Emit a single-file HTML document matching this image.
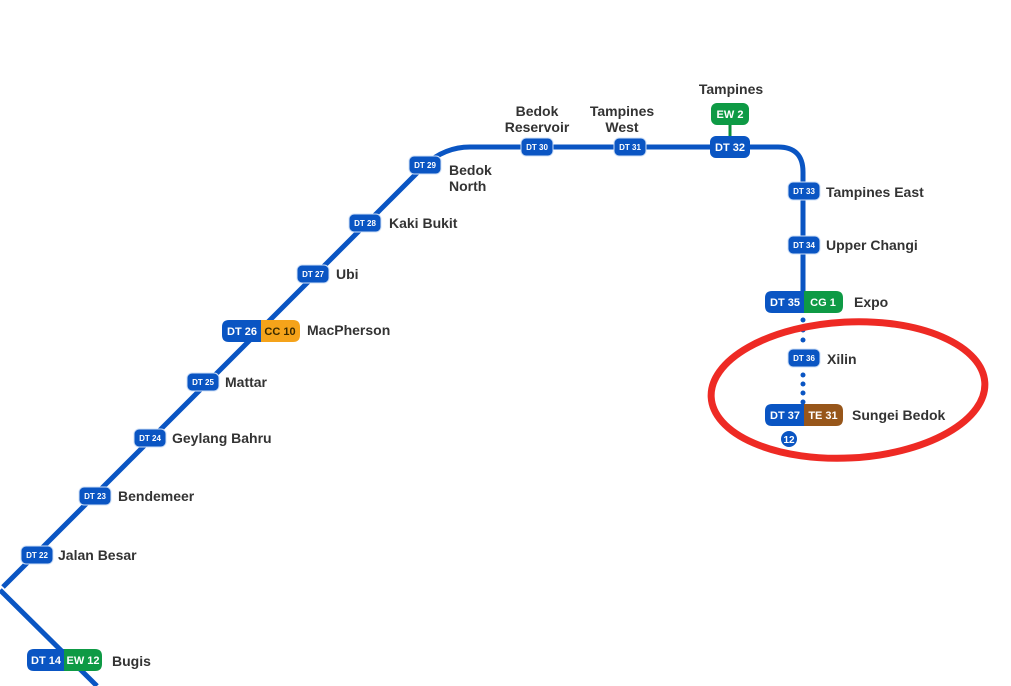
<!DOCTYPE html>
<html><head><meta charset="utf-8"><style>
body{margin:0;background:#fff}
svg{display:block}
text{font-family:"Liberation Sans",sans-serif}
.n{font-size:14px;font-weight:bold;fill:#333}
.b{font-size:8px;font-weight:bold;fill:#fff}
.B{font-size:11px;font-weight:bold;fill:#fff}
</style></head><body>
<svg width="1011" height="686" viewBox="0 0 1011 686">
<g fill="none" stroke="#0a55c3" stroke-width="5" stroke-linecap="butt">
<path d="M3,587 L425,165 Q445,147 470,147 L778,147 Q803,147 803,172 L803,303"/>
<path d="M0,590 L97,686"/>
</g>
<g fill="#0a55c3">
<circle cx="803" cy="320" r="2.5"/><circle cx="803" cy="330" r="2.5"/><circle cx="803" cy="340" r="2.5"/>
<circle cx="803" cy="375" r="2.5"/><circle cx="803" cy="384" r="2.5"/><circle cx="803" cy="393" r="2.5"/><circle cx="803" cy="402" r="2.5"/>
</g>
<!-- small badges -->
<g>
<g transform="translate(37,555)"><rect x="-16" y="-9" width="32" height="18" rx="5" fill="#0a55c3" stroke="#cfe0f7" stroke-width="1"/><text class="b" x="0" y="3" text-anchor="middle">DT 22</text></g>
<g transform="translate(95,496)"><rect x="-16" y="-9" width="32" height="18" rx="5" fill="#0a55c3" stroke="#cfe0f7"/><text class="b" x="0" y="3" text-anchor="middle">DT 23</text></g>
<g transform="translate(150,438)"><rect x="-16" y="-9" width="32" height="18" rx="5" fill="#0a55c3" stroke="#cfe0f7"/><text class="b" x="0" y="3" text-anchor="middle">DT 24</text></g>
<g transform="translate(203,382)"><rect x="-16" y="-9" width="32" height="18" rx="5" fill="#0a55c3" stroke="#cfe0f7"/><text class="b" x="0" y="3" text-anchor="middle">DT 25</text></g>
<g transform="translate(313,274)"><rect x="-16" y="-9" width="32" height="18" rx="5" fill="#0a55c3" stroke="#cfe0f7"/><text class="b" x="0" y="3" text-anchor="middle">DT 27</text></g>
<g transform="translate(365,223)"><rect x="-16" y="-9" width="32" height="18" rx="5" fill="#0a55c3" stroke="#cfe0f7"/><text class="b" x="0" y="3" text-anchor="middle">DT 28</text></g>
<g transform="translate(425,165)"><rect x="-16" y="-9" width="32" height="18" rx="5" fill="#0a55c3" stroke="#cfe0f7"/><text class="b" x="0" y="3" text-anchor="middle">DT 29</text></g>
<g transform="translate(537,147)"><rect x="-16" y="-9" width="32" height="18" rx="5" fill="#0a55c3" stroke="#cfe0f7"/><text class="b" x="0" y="3" text-anchor="middle">DT 30</text></g>
<g transform="translate(630,147)"><rect x="-16" y="-9" width="32" height="18" rx="5" fill="#0a55c3" stroke="#cfe0f7"/><text class="b" x="0" y="3" text-anchor="middle">DT 31</text></g>
<g transform="translate(804,191)"><rect x="-16" y="-9" width="32" height="18" rx="5" fill="#0a55c3" stroke="#cfe0f7"/><text class="b" x="0" y="3" text-anchor="middle">DT 33</text></g>
<g transform="translate(804,245)"><rect x="-16" y="-9" width="32" height="18" rx="5" fill="#0a55c3" stroke="#cfe0f7"/><text class="b" x="0" y="3" text-anchor="middle">DT 34</text></g>
<g transform="translate(804,358)"><rect x="-16" y="-9" width="32" height="18" rx="5" fill="#0a55c3" stroke="#cfe0f7"/><text class="b" x="0" y="3" text-anchor="middle">DT 36</text></g>
</g>
<!-- Tampines -->
<line x1="730" y1="120" x2="730" y2="140" stroke="#0a8f3c" stroke-width="3"/>
<rect x="711" y="103" width="38" height="22" rx="6" fill="#0e9a45"/><text class="B" x="730" y="118" text-anchor="middle">EW 2</text>
<rect x="710" y="136" width="40" height="22" rx="6" fill="#0a55c3"/><text class="B" x="730" y="151" text-anchor="middle">DT 32</text>
<!-- interchange badges -->
<g>
<path d="M229,320 H261 V342 H229 Q222,342 222,335 V327 Q222,320 229,320Z" fill="#0a55c3"/><path d="M261,320 H293 Q300,320 300,327 V335 Q300,342 293,342 H261Z" fill="#f5a31a"/>
<text class="B" x="242" y="335" text-anchor="middle">DT 26</text><text class="B" x="280" y="335" text-anchor="middle" fill="#3a2a00" style="fill:#3a2a00">CC 10</text>
</g>
<g>
<path d="M772,291 H804 V313 H772 Q765,313 765,306 V298 Q765,291 772,291Z" fill="#0a55c3"/><path d="M804,291 H836 Q843,291 843,298 V306 Q843,313 836,313 H804Z" fill="#0e9a45"/>
<text class="B" x="785" y="306" text-anchor="middle">DT 35</text><text class="B" x="823" y="306" text-anchor="middle">CG 1</text>
</g>
<g>
<path d="M772,404 H804 V426 H772 Q765,426 765,419 V411 Q765,404 772,404Z" fill="#0a55c3"/><path d="M804,404 H836 Q843,404 843,411 V419 Q843,426 836,426 H804Z" fill="#97561a"/>
<text class="B" x="785" y="419" text-anchor="middle">DT 37</text><text class="B" x="823" y="419" text-anchor="middle">TE 31</text>
</g>
<circle cx="789" cy="439" r="8" fill="#0a55c3"/><text x="789" y="443" text-anchor="middle" style="font-size:10px;font-weight:bold;fill:#fff">12</text>
<g>
<path d="M34,649 H64 V671 H34 Q27,671 27,664 V656 Q27,649 34,649Z" fill="#0a55c3"/><path d="M64,649 H95 Q102,649 102,656 V664 Q102,671 95,671 H64Z" fill="#0e9a45"/>
<text class="B" x="46" y="664" text-anchor="middle">DT 14</text><text class="B" x="83" y="664" text-anchor="middle">EW 12</text>
</g>
<!-- names -->
<g class="n">
<text class="n" x="58" y="560">Jalan Besar</text>
<text class="n" x="118" y="501">Bendemeer</text>
<text class="n" x="172" y="443">Geylang Bahru</text>
<text class="n" x="225" y="387">Mattar</text>
<text class="n" x="307" y="335">MacPherson</text>
<text class="n" x="336" y="279">Ubi</text>
<text class="n" x="389" y="228">Kaki Bukit</text>
<text class="n" x="449" y="175">Bedok</text>
<text class="n" x="449" y="191">North</text>
<text class="n" x="537" y="116" text-anchor="middle">Bedok</text>
<text class="n" x="537" y="132" text-anchor="middle">Reservoir</text>
<text class="n" x="622" y="116" text-anchor="middle">Tampines</text>
<text class="n" x="622" y="132" text-anchor="middle">West</text>
<text class="n" x="731" y="94" text-anchor="middle">Tampines</text>
<text class="n" x="826" y="197">Tampines East</text>
<text class="n" x="826" y="250">Upper Changi</text>
<text class="n" x="854" y="307">Expo</text>
<text class="n" x="827" y="364">Xilin</text>
<text class="n" x="852" y="420">Sungei Bedok</text>
<text class="n" x="112" y="666">Bugis</text>
</g>
<ellipse cx="848" cy="390" rx="137" ry="68" transform="rotate(-3 848 390)" fill="none" stroke="#ee2a24" stroke-width="7"/>
</svg>
</body></html>
